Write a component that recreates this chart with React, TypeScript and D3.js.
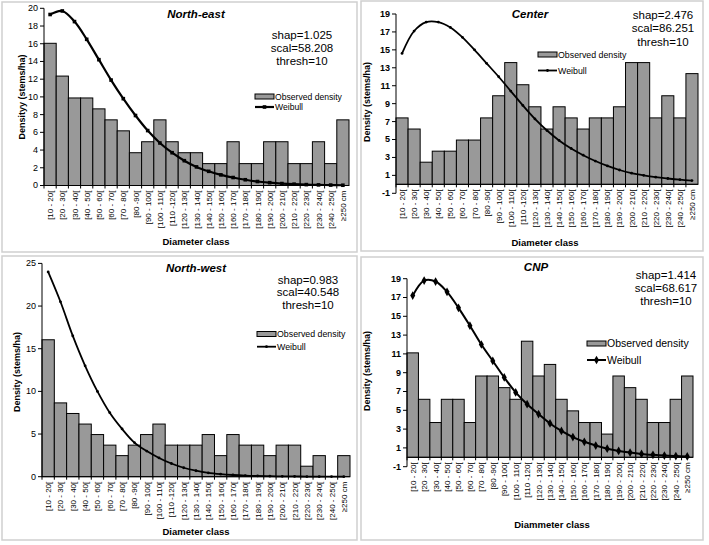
import * as d3 from 'd3';

const categories = ['[10 - 20[', '[20 - 30[', '[30 - 40[', '[40 - 50[', '[50 - 60[', '[60 - 70[', '[70 - 80[', '[80 -90[', '[90 - 100[', '[100 - 110[', '[110 -120[', '[120 - 130[', '[130 - 140[', '[140 - 150[', '[150 - 160[', '[160 - 170[', '[170 - 180[', '[180 - 190[', '[190 - 200[', '[200 - 210[', '[210 - 220[', '[220 - 230[', '[230 - 240[', '[240 - 250[', '≥250 cm'];

// observed densities (stems/ha) and fitted Weibull
const neObserved = [16.05, 12.35, 9.88, 9.88, 8.65, 7.41, 6.17, 3.7, 4.94, 7.41, 4.94, 3.7, 3.7, 2.47, 2.47, 4.94, 2.47, 2.47, 4.94, 4.94, 2.47, 2.47, 4.94, 2.47, 7.41];
const neWeibull = [19.3, 19.7, 18.5, 16.5, 14.2, 11.9, 9.8, 7.9, 6.2, 4.8, 3.7, 2.8, 2.1, 1.6, 1.2, 0.9, 0.65, 0.45, 0.32, 0.22, 0.15, 0.1, 0.07, 0.05, 0.03];

const ceObserved = [7.41, 6.17, 2.47, 3.7, 3.7, 4.94, 4.94, 7.41, 9.88, 13.58, 11.11, 8.65, 6.17, 8.65, 7.41, 6.17, 7.41, 7.41, 8.65, 13.58, 13.58, 7.41, 9.88, 7.41, 12.35];
const ceWeibull = [14.6, 17.1, 18.1, 18.1, 17.5, 16.4, 15.0, 13.5, 12.0, 10.4, 8.8, 7.3, 6.0, 4.9, 4.0, 3.25, 2.6, 2.05, 1.6, 1.25, 1.0, 0.8, 0.65, 0.52, 0.42];

const nwObserved = [16.05, 8.65, 7.41, 6.17, 4.94, 3.7, 2.47, 3.7, 4.94, 6.17, 3.7, 3.7, 3.7, 4.94, 2.47, 4.94, 3.7, 3.7, 2.47, 3.7, 3.7, 1.23, 2.47, 0, 2.47];
const nwWeibull = [24.0, 20.5, 16.5, 13.0, 10.0, 7.5, 5.6, 4.0, 3.0, 2.2, 1.55, 1.05, 0.7, 0.45, 0.3, 0.2, 0.13, 0.09, 0.06, 0.04, 0.03, 0.02, 0.01, 0.01, 0.0];

const cnpObserved = [11.11, 6.17, 3.7, 6.17, 6.17, 3.7, 8.65, 8.65, 7.41, 6.17, 12.35, 8.65, 9.88, 6.17, 4.94, 3.7, 3.7, 2.47, 8.65, 7.41, 6.17, 3.7, 3.7, 6.17, 8.65];
const cnpWeibull = [17.2, 18.8, 18.7, 17.6, 15.9, 14.0, 12.0, 10.25, 8.5, 6.9, 5.65, 4.6, 3.6, 2.8, 2.15, 1.65, 1.25, 0.92, 0.68, 0.5, 0.36, 0.26, 0.18, 0.13, 0.09];

const neTicks = [0, 2, 4, 6, 8, 10, 12, 14, 16, 18, 20];
const ceTicks = [-1, 1, 3, 5, 7, 9, 11, 13, 15, 17, 19];
const nwTicks = [0, 5, 10, 15, 20, 25];
const cnpTicks = [-1, 1, 3, 5, 7, 9, 11, 13, 15, 17, 19];

const FONT = 'Liberation Sans, Arial, sans-serif';

const panels = [
  {
    key: 'ne', box: [2, 2, 355, 250], x0: 44, x1: 349, yTop: 8.3, yBottom: 185.5, domain: [0, 20], ticks: neTicks,
    observed: neObserved, weibull: neWeibull, title: 'North-east', titleX: 196, titleY: 18,
    stats: ['shap=1.025', 'scal=58.208', 'thresh=10'], statsX: 302, statsY: 38.5, statsDy: 13.3,
    legendX: 255, legendY: 94, legendGap: 10.5, legendFont: 8.6,
    yLabel: 'Densityy (stems/ha)', yLabelX: 24.5, yLabelY: 97, xLabel: 'Diameter class', xLabelX: 196, xLabelY: 245,
    marker: 'square', tickBold: false, lineW: 2.2,
  },
  {
    key: 'ce', box: [361, 1, 342, 250], x0: 396, x1: 698, yTop: 14, yBottom: 193.3, domain: [-1, 19], ticks: ceTicks,
    observed: ceObserved, weibull: ceWeibull, title: 'Center', titleX: 530, titleY: 18,
    stats: ['shap=2.476', 'scal=86.251', 'thresh=10'], statsX: 663, statsY: 19, statsDy: 13.3,
    legendX: 538, legendY: 52, legendGap: 16, legendFont: 8.8,
    yLabel: 'Density (stems/ha)', yLabelX: 369.5, yLabelY: 102, xLabel: 'Diameter class', xLabelX: 545, xLabelY: 246,
    marker: 'dot', tickBold: true, lineW: 1.8,
  },
  {
    key: 'nw', box: [2, 256, 355, 284], x0: 42, x1: 350, yTop: 263.4, yBottom: 476.7, domain: [0, 25], ticks: nwTicks,
    observed: nwObserved, weibull: nwWeibull, title: 'North-west', titleX: 196, titleY: 272,
    stats: ['shap=0.983', 'scal=40.548', 'thresh=10'], statsX: 308, statsY: 283.5, statsDy: 12.8,
    legendX: 257, legendY: 331.5, legendGap: 12.7, legendFont: 8.8,
    yLabel: 'Density (stems/ha)', yLabelX: 19.5, yLabelY: 372, xLabel: 'Diameter class', xLabelX: 196, xLabelY: 535,
    marker: 'dot', tickBold: false, lineW: 1.8,
  },
  {
    key: 'cnp', box: [361, 257, 342, 283], x0: 407, x1: 693, yTop: 278.7, yBottom: 466.7, domain: [-1, 19], ticks: cnpTicks,
    observed: cnpObserved, weibull: cnpWeibull, title: 'CNP', titleX: 536, titleY: 271,
    stats: ['shap=1.414', 'scal=68.617', 'thresh=10'], statsX: 666, statsY: 278.5, statsDy: 13.3,
    legendX: 587, legendY: 341, legendGap: 16.5, legendFont: 10.5,
    yLabel: 'Density (stems/ha)', yLabelX: 370, yLabelY: 371, xLabel: 'Diammeter class', xLabelX: 552, xLabelY: 528,
    marker: 'diamond', tickBold: true, lineW: 2,
  },
];

function Marker({ type, cx, cy }: { type: string; cx: number; cy: number }) {
  if (type === 'square') return <rect x={cx - 1.8} y={cy - 1.8} width={3.6} height={3.6} fill="#000" />;
  if (type === 'diamond') return <path d={d3.symbol().type(d3.symbolDiamond).size(22)() as string} transform={`translate(${cx},${cy})`} fill="#000" />;
  return <circle cx={cx} cy={cy} r={1.4} fill="#000" />;
}

function Panel({ cfg }: { cfg: any }) {
  const x = d3.scaleBand().domain(categories).range([cfg.x0, cfg.x1]).padding(0);
  const y = d3.scaleLinear().domain(cfg.domain).range([cfg.yBottom, cfg.yTop]);
  const bw = x.bandwidth();
  const cx = (i: number) => (x(categories[i]) as number) + bw / 2;
  const base = y(0);
  const line = d3.line<number>().x((_, i) => cx(i)).y(d => y(d)).curve(d3.curveCatmullRom);
  const [bx, by, bwid, bh] = cfg.box;
  const lx = cfg.legendX;
  const ly = cfg.legendY;
  const lineY = ly + 2.5 + cfg.legendGap;

  return (
    <g>
      <rect x={bx} y={by} width={bwid} height={bh} fill="#fff" stroke="#cfcfcf" strokeWidth={1.5} />
      {/* bars */}
      {cfg.observed.map((v: number, i: number) => v > 0 && (
        <rect key={i} x={x(categories[i])} y={y(v)} width={bw} height={base - y(v)} fill="#999999" stroke="#000" strokeWidth={1} />
      ))}
      {/* axes */}
      <line x1={cfg.x0} x2={cfg.x1} y1={base} y2={base} stroke="#000" strokeWidth={1} />
      {categories.map((c, i) => (
        <line key={c} x1={x(c)} x2={x(c)} y1={base} y2={base + 3} stroke="#000" />
      ))}
      <line x1={cfg.x0} x2={cfg.x0} y1={y(cfg.domain[0])} y2={y(cfg.domain[1])} stroke="#000" strokeWidth={1} />
      {cfg.ticks.map((t: number) => (
        <g key={t}>
          <line x1={cfg.x0 - 4} x2={cfg.x0} y1={y(t)} y2={y(t)} stroke="#000" />
          <text x={cfg.x0 - 6} y={y(t)} dy="0.33em" textAnchor="end" fontSize={9} fontWeight={cfg.tickBold ? 'bold' : 'normal'} fontFamily={FONT}>{t}</text>
        </g>
      ))}
      {categories.map((c, i) => (
        <text key={c} transform={`translate(${cx(i) + 3},${base + 5}) rotate(-90)`} textAnchor="end" fontSize={8} fontFamily={FONT}>{c}</text>
      ))}
      {/* weibull */}
      <path d={line(cfg.weibull) as string} fill="none" stroke="#000" strokeWidth={cfg.lineW} />
      {cfg.weibull.map((v: number, i: number) => <Marker key={i} type={cfg.marker} cx={cx(i)} cy={y(v)} />)}
      {/* titles */}
      <text x={cfg.titleX} y={cfg.titleY} textAnchor="middle" fontSize={11.5} fontWeight="bold" fontStyle="italic" fontFamily={FONT}>{cfg.title}</text>
      {cfg.stats.map((s: string, i: number) => (
        <text key={s} x={cfg.statsX} y={cfg.statsY + i * cfg.statsDy} textAnchor="middle" fontSize={11.5} fontFamily={FONT}>{s}</text>
      ))}
      <text transform={`translate(${cfg.yLabelX},${cfg.yLabelY}) rotate(-90)`} textAnchor="middle" fontSize={9} fontWeight="bold" fontFamily={FONT}>{cfg.yLabel}</text>
      <text x={cfg.xLabelX} y={cfg.xLabelY} textAnchor="middle" fontSize={9.5} fontWeight="bold" fontFamily={FONT}>{cfg.xLabel}</text>
      {/* legend */}
      <rect x={lx} y={ly} width={19} height={5} fill="#999999" stroke="#000" strokeWidth={1} />
      <text x={lx + 20} y={ly + 2.5} dy="0.35em" fontSize={cfg.legendFont} fontFamily={FONT}>Observed density</text>
      <line x1={lx} x2={lx + 19} y1={lineY} y2={lineY} stroke="#000" strokeWidth={cfg.lineW} />
      <Marker type={cfg.marker} cx={lx + 9.5} cy={lineY} />
      <text x={lx + 20} y={lineY} dy="0.35em" fontSize={cfg.legendFont} fontFamily={FONT}>Weibull</text>
    </g>
  );
}

export default function App() {
  return (
    <svg width={709} height={545} style={{ position: 'absolute', left: 0, top: 0, background: '#fff' }}>
      {panels.map(p => <Panel key={p.key} cfg={p} />)}
    </svg>
  );
}
